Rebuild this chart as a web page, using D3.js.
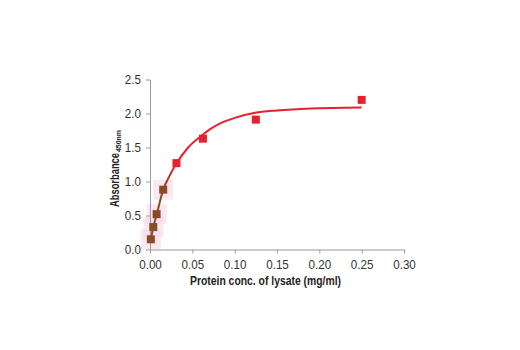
<!DOCTYPE html>
<html><head><meta charset="utf-8">
<script src="https://cdn.jsdelivr.net/npm/d3@7"></script>
<style>
body{margin:0;background:#fff;}
svg text{font-family:"Liberation Sans","Arial",sans-serif;}
</style></head>
<body><svg id="c" width="520" height="350"></svg>
<script>
// data
const xTicks = [0.00,0.05,0.10,0.15,0.20,0.25,0.30];
const yTicks = [0.0,0.5,1.0,1.5,2.0,2.5];
const lowConc = [0.001,0.0039,0.0078,0.0156];
const lowAbs  = [0.15,0.33,0.52,0.88];
const highConc = [0.03125,0.0625,0.125,0.25];
const highAbs  = [1.27,1.63,1.91,2.20];
const fitConc = [0.001,0.004,0.008,0.0156,0.023,0.031,0.045,0.0625,0.071,0.083,0.1,0.124,0.15,0.19,0.25];
const fitAbs  = [0.15,0.33,0.52,0.88,1.08,1.26,1.50,1.69,1.77,1.855,1.935,2.01,2.045,2.075,2.09];

const svg = d3.select("#c");
const x = d3.scaleLinear().domain([0,0.30]).range([150,404]);
const y = d3.scaleLinear().domain([0,2.5]).range([249.5,79.5]);
const red = "#e8202e", brown = "#8a4a26", axisCol = "#9a9a9a";

function condense(sel, f){
  sel.each(function(){
    const L = this.getComputedTextLength();
    d3.select(this).attr("textLength", L*f).attr("lengthAdjust","spacingAndGlyphs");
  });
}

// faint pink halos
const halo = svg.append("g");
lowConc.forEach((c,i)=>{
  halo.append("rect").attr("x",x(c)-10).attr("y",y(lowAbs[i])-10).attr("width",20).attr("height",20)
    .attr("fill","#f9d6ea").attr("opacity",0.55);
});

// axes
const xAxis = svg.append("g").attr("transform","translate(0,249.5)")
  .call(d3.axisBottom(x).tickValues(xTicks).tickFormat(d3.format(".2f")).tickSize(4).tickSizeOuter(0));
const yAxis = svg.append("g").attr("transform","translate(150,0)")
  .call(d3.axisLeft(y).tickValues(yTicks).tickFormat(d3.format(".1f")).tickSize(4).tickSizeOuter(0));
[xAxis,yAxis].forEach(a=>{
  a.select(".domain").attr("stroke",axisCol);
  a.selectAll(".tick line").attr("stroke",axisCol);
  a.selectAll(".tick text").attr("fill","#333").style("font-size","13.5px")
   .style("font-family","'Liberation Sans',Arial,sans-serif");
});
xAxis.selectAll(".tick text").attr("dy","12");
yAxis.selectAll(".tick text").attr("dx","-2");
condense(xAxis.selectAll(".tick text"),0.86);
condense(yAxis.selectAll(".tick text"),0.86);

// gradient for fit line (brown low, red high)
const defs = svg.append("defs");
const grad = defs.append("linearGradient").attr("id","g").attr("gradientUnits","userSpaceOnUse")
  .attr("x1",0).attr("y1",y(0)).attr("x2",0).attr("y2",y(2.5));
grad.append("stop").attr("offset",0).attr("stop-color",brown);
grad.append("stop").attr("offset",0.36).attr("stop-color",brown);
grad.append("stop").attr("offset",0.5).attr("stop-color",red);
grad.append("stop").attr("offset",1).attr("stop-color",red);

const fit = fitConc.map((c,i)=>[c,fitAbs[i]]);
svg.append("path").datum(fit)
  .attr("d",d3.line().x(d=>x(d[0])).y(d=>y(d[1])).curve(d3.curveMonotoneX))
  .attr("fill","none").attr("stroke","url(#g)").attr("stroke-width",2);

const s = 8;
svg.append("g").selectAll("rect").data(highConc).join("rect")
  .attr("x",d=>x(d)-s/2).attr("y",(d,i)=>y(highAbs[i])-s/2).attr("width",s).attr("height",s).attr("fill",red);
svg.append("g").selectAll("rect").data(lowConc).join("rect")
  .attr("x",d=>x(d)-s/2).attr("y",(d,i)=>y(lowAbs[i])-s/2).attr("width",s).attr("height",s).attr("fill",brown);

// titles
svg.append("text").attr("x",265.5).attr("y",285).attr("text-anchor","middle")
  .style("font-size","13px").style("font-weight","bold").attr("fill","#222")
  .attr("textLength",151).attr("lengthAdjust","spacingAndGlyphs")
  .text("Protein conc. of lysate (mg/ml)");
const yg = svg.append("g").attr("transform","translate(119,207) rotate(-90)");
yg.append("text").attr("x",0).attr("y",0)
  .style("font-size","13px").style("font-weight","bold").attr("fill","#222")
  .attr("textLength",54).attr("lengthAdjust","spacingAndGlyphs").text("Absorbance");
yg.append("text").attr("x",55).attr("y",2)
  .style("font-size","7.5px").style("font-weight","bold").attr("fill","#222")
  .attr("textLength",22).attr("lengthAdjust","spacingAndGlyphs").text("450nm");
</script></body></html>
